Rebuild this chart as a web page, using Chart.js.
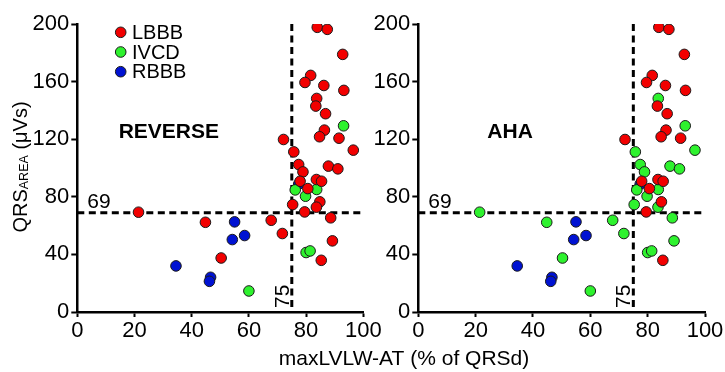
<!DOCTYPE html>
<html>
<head>
<meta charset="utf-8">
<script src="https://cdn.jsdelivr.net/npm/chart.js@4.4.1/dist/chart.umd.min.js"></script>
<style>
  html, body { margin: 0; padding: 0; background: #fff; }
  #wrap { position: relative; width: 725px; height: 372px; }
  #wrap canvas { position: absolute; left: 0; top: 0; }
</style>
</head>
<body>
<div id="wrap">
  <canvas id="reverseChart" width="725" height="372"></canvas>
  <canvas id="ahaChart" width="725" height="372"></canvas>
</div>
<script>
// one entry per patient, same points in both panels, only the class differs
const maxLvlwAt = [83.9, 87.4, 92.8, 81.6, 79.6, 86.2, 93.2, 83.7, 83.4, 86.8,
                   86.4, 84.7, 91.5, 72.1, 96.5, 75.7, 77.4, 87.8, 91.1, 78.9,
                   77.9, 83.6, 85.4, 80.6, 75.3, 84.8, 83.6, 79.5, 88.6, 89.2,
                   85.3, 21.4, 44.8, 67.8, 71.7, 50.3, 93.1, 76.2, 79.8, 83.7,
                   80.0, 81.4, 60.0, 77.4, 55.0, 54.2, 58.5, 34.5, 46.6, 46.2];
const qrsArea = [197.7, 196.3, 178.9, 164.3, 159.4, 157.3, 153.9, 148.3, 143.0, 137.7,
                 126.3, 121.7, 120.7, 119.8, 112.4, 111.2, 102.4, 101.3, 99.4, 97.3,
                 90.8, 92.0, 90.8, 85.7, 74.6, 76.5, 72.8, 69.5, 65.4, 49.4,
                 35.9, 69.3, 62.3, 63.7, 54.5, 37.5, 129.3, 84.8, 80.4, 85.1,
                 41.3, 42.4, 14.6, 88.8, 62.6, 50.3, 53.1, 32.0, 24.1, 21.3];
// L = LBBB, I = IVCD, R = RBBB
const reverseClass = ['L','L','L','L','L','L','L','L','L','L',
                      'L','L','L','L','L','L','L','L','L','L',
                      'L','L','L','L','L','L','L','L','L','L',
                      'L','L','L','L','L','L','I','I','I','I',
                      'I','I','I','R','R','R','R','R','R','R'];
const ahaClass = ['L','L','L','L','L','L','L','I','L','L',
                  'L','L','L','L','I','I','I','I','I','I',
                  'L','L','L','L','I','L','I','L','I','I',
                  'L','I','I','I','I','I','I','I','I','I',
                  'I','I','I','R','R','R','R','R','R','R'];
const groupCodes = ['L', 'I', 'R'];
const groupNames = ['LBBB', 'IVCD', 'RBBB'];
const groupColors = ['#f20000', '#2ef22e', '#0012d2'];
const xTicks = [0, 20, 40, 60, 80, 100];
const yTicks = [0, 40, 80, 120, 160, 200];
const cutoffX = 75;
const cutoffY = 69;

const FONT = '"Liberation Sans", Arial, sans-serif';
Chart.defaults.font.family = FONT;
Chart.defaults.color = '#000';

function buildDatasets(classes) {
  return groupCodes.map((code, g) => ({
    label: groupNames[g],
    data: maxLvlwAt.map((x, i) => ({x: x, y: qrsArea[i]})).filter((p, i) => classes[i] === code),
    backgroundColor: groupColors[g],
    borderColor: '#1a1a1a',
    borderWidth: 1,
    pointRadius: 5.3,
    pointHoverRadius: 5.3
  }));
}

// dashed cut-off lines, panel name, legend and axis titles
const annotations = {
  id: 'annotations',
  beforeDatasetsDraw(chart) {
    const {ctx, scales: {x, y}} = chart;
    ctx.save();
    ctx.strokeStyle = '#000';
    ctx.lineWidth = 3;
    ctx.setLineDash([7, 4.5]);
    ctx.beginPath();
    ctx.moveTo(x.getPixelForValue(0), y.getPixelForValue(cutoffY));
    ctx.lineTo(x.getPixelForValue(100), y.getPixelForValue(cutoffY));
    ctx.moveTo(x.getPixelForValue(cutoffX), y.getPixelForValue(200));
    ctx.lineTo(x.getPixelForValue(cutoffX), y.getPixelForValue(0));
    ctx.stroke();
    ctx.restore();
  },
  afterDraw(chart, args, opts) {
    const {ctx, scales: {x, y}} = chart;
    ctx.save();
    ctx.fillStyle = '#000';

    ctx.font = '21px ' + FONT;
    ctx.textAlign = 'left';
    ctx.textBaseline = 'alphabetic';
    ctx.fillText(String(cutoffY), x.getPixelForValue(0) + 10, y.getPixelForValue(cutoffY) - 5);

    ctx.save();
    ctx.translate(x.getPixelForValue(cutoffX) - 3, y.getPixelForValue(0) - 4);
    ctx.rotate(-Math.PI / 2);
    ctx.fillText(String(cutoffX), 0, 0);
    ctx.restore();

    ctx.font = 'bold 21px ' + FONT;
    ctx.textAlign = 'center';
    ctx.fillText(opts.panel, x.getPixelForValue(32), y.getPixelForValue(120.8));

    if (opts.legend) {
      ctx.textAlign = 'left';
      ctx.font = '20px ' + FONT;
      groupNames.forEach((name, g) => {
        const cy = 32.3 + g * 19.7;
        ctx.beginPath();
        ctx.arc(120.7, cy, 5.3, 0, Math.PI * 2);
        ctx.fillStyle = groupColors[g];
        ctx.fill();
        ctx.lineWidth = 1;
        ctx.strokeStyle = '#1a1a1a';
        ctx.stroke();
        ctx.fillStyle = '#000';
        ctx.fillText(name, 132, cy + 6.5);
      });
    }

    if (opts.titles) {
      ctx.textAlign = 'center';
      ctx.font = '21px ' + FONT;
      ctx.fillText('maxLVLW-AT (% of QRSd)', 404, 365);

      // QRS with subscript AREA, rotated
      ctx.save();
      ctx.translate(27, 167);
      ctx.rotate(-Math.PI / 2);
      ctx.textAlign = 'left';
      const big = '20px ' + FONT, small = '12.5px ' + FONT;
      ctx.font = big;
      const w1 = ctx.measureText('QRS').width;
      const w3 = ctx.measureText(' (\u03BCVs)').width;
      ctx.font = small;
      const w2 = ctx.measureText('AREA').width;
      let sx = -(w1 + w2 + w3) / 2;
      ctx.font = big;
      ctx.fillText('QRS', sx, 0);
      ctx.font = small;
      ctx.fillText('AREA', sx + w1, 1);
      ctx.font = big;
      ctx.fillText(' (\u03BCVs)', sx + w1 + w2, 0);
      ctx.restore();
    }
    ctx.restore();
  }
};

function makeChart(id, classes, panel, plotLeft, padRight, first) {
  return new Chart(document.getElementById(id), {
    type: 'scatter',
    data: {datasets: buildDatasets(classes)},
    options: {
      responsive: false,
      animation: false,
      events: [],
      layout: {padding: {left: 0, top: 24, right: padRight, bottom: 0}},
      plugins: {
        legend: {display: false},
        tooltip: {enabled: false},
        annotations: {panel: panel, legend: first, titles: first}
      },
      elements: {point: {clip: false}},
      scales: {
        x: {
          type: 'linear', min: 0, max: 100,
          afterBuildTicks: s => { s.ticks = xTicks.map(v => ({value: v})); },
          afterFit: s => { s.height = 60; },
          ticks: {font: {size: 22}, color: '#000', padding: 1, maxRotation: 0, autoSkip: false},
          grid: {drawOnChartArea: false, tickLength: 5, tickWidth: 2, tickColor: '#000'},
          border: {color: '#000', width: 2.5}
        },
        y: {
          type: 'linear', min: 0, max: 200,
          afterBuildTicks: s => { s.ticks = yTicks.map(v => ({value: v})); },
          afterFit: s => { s.width = plotLeft; },
          ticks: {font: {size: 22}, color: '#000', padding: 2, autoSkip: false},
          grid: {drawOnChartArea: false, tickLength: 6, tickWidth: 2, tickColor: '#000'},
          border: {color: '#000', width: 2.5}
        }
      }
    },
    plugins: [annotations]
  });
}

makeChart('reverseChart', reverseClass, 'REVERSE', 77.3, 725 - 363.3, true);
makeChart('ahaChart', ahaClass, 'AHA', 418.3, 20, false);
</script>
</body>
</html>
